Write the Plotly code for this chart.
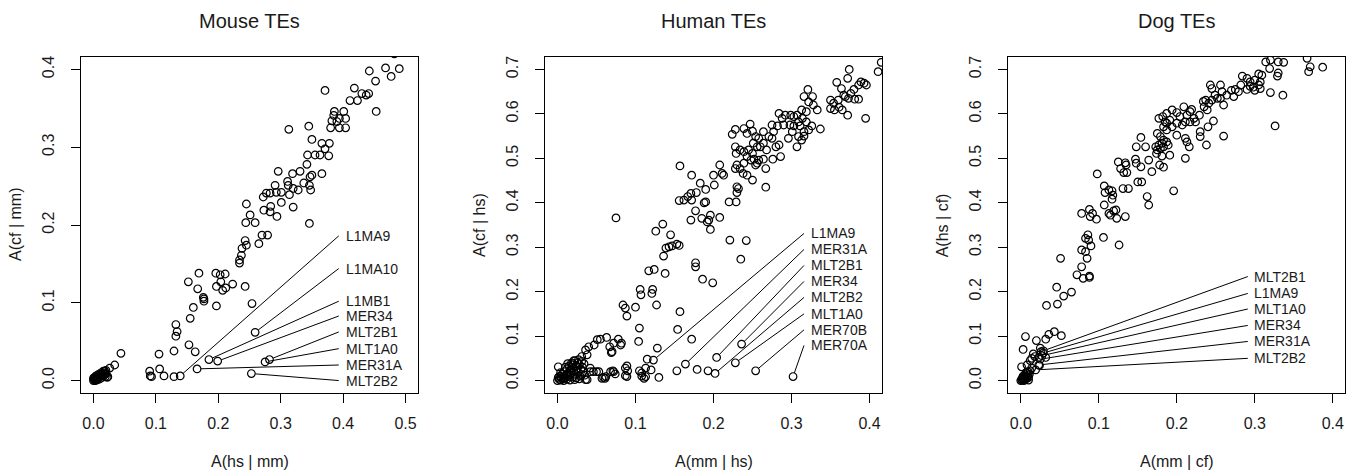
import math
import plotly.graph_objects as go

# ---------------- DATA ----------------
# Mouse TEs: x = A(hs | mm), y = A(cf | mm)
mouse_x = [0.482, 0.468, 0.477, 0.490, 0.442, 0.452, 0.418, 0.430, 0.437, 0.441, 0.411, 0.423, 0.371, 0.453,
           0.386, 0.401, 0.385, 0.394, 0.390, 0.382, 0.404, 0.394, 0.404, 0.380, 0.313, 0.345, 0.350, 0.366,
           0.378, 0.371, 0.355, 0.363, 0.377, 0.343, 0.366, 0.342, 0.350, 0.347, 0.348, 0.346, 0.337, 0.346,
           0.296, 0.319, 0.331, 0.311, 0.312, 0.320, 0.328, 0.314, 0.320, 0.291, 0.283, 0.293, 0.301, 0.277,
           0.272, 0.301, 0.294, 0.284, 0.283, 0.273, 0.245, 0.251, 0.244, 0.259, 0.270, 0.279, 0.265, 0.243,
           0.245, 0.238, 0.237, 0.234, 0.234, 0.243, 0.254, 0.196, 0.203, 0.211, 0.197, 0.207, 0.223, 0.212,
           0.204, 0.197, 0.169, 0.152, 0.167, 0.176, 0.177, 0.177, 0.160, 0.155, 0.132, 0.134, 0.132, 0.153,
           0.163, 0.129, 0.105, 0.090, 0.091, 0.093, 0.106, 0.113, 0.129, 0.044, 0.034, 0.026, 0.023, 0.018,
           0.000, 0.001, 0.002, 0.003, 0.004, 0.005, 0.006, 0.007, 0.008, 0.009, 0.010, 0.011, 0.012, 0.013,
           0.014, 0.015, 0.016, 0.017, 0.018, 0.019, 0.020, 0.022, 0.002, 0.004, 0.006, 0.008, 0.010, 0.012,
           0.014, 0.000, 0.003, 0.016, 0.020]
mouse_y = [0.420, 0.402, 0.391, 0.401, 0.398, 0.385, 0.376, 0.369, 0.367, 0.369, 0.360, 0.360, 0.373, 0.346,
           0.346, 0.346, 0.341, 0.337, 0.333, 0.334, 0.337, 0.325, 0.325, 0.325, 0.323, 0.327, 0.310, 0.305,
           0.305, 0.298, 0.290, 0.290, 0.289, 0.290, 0.266, 0.278, 0.264, 0.262, 0.245, 0.251, 0.254, 0.202,
           0.269, 0.266, 0.269, 0.256, 0.251, 0.247, 0.245, 0.239, 0.223, 0.251, 0.241, 0.242, 0.242, 0.241,
           0.236, 0.229, 0.211, 0.224, 0.217, 0.219, 0.227, 0.213, 0.203, 0.203, 0.187, 0.187, 0.176, 0.180,
           0.174, 0.170, 0.161, 0.155, 0.151, 0.121, 0.099, 0.138, 0.136, 0.137, 0.121, 0.116, 0.124, 0.119,
           0.127, 0.096, 0.138, 0.127, 0.118, 0.107, 0.102, 0.105, 0.094, 0.080, 0.072, 0.063, 0.057, 0.046,
           0.037, 0.038, 0.034, 0.012, 0.006, 0.005, 0.015, 0.006, 0.005, 0.035, 0.020, 0.016, 0.005, 0.012,
           0.000, 0.002, 0.001, 0.003, 0.002, 0.004, 0.003, 0.005, 0.004, 0.006, 0.005, 0.007, 0.006, 0.008,
           0.007, 0.009, 0.006, 0.010, 0.008, 0.005, 0.009, 0.004, 0.004, 0.006, 0.001, 0.008, 0.002, 0.010,
           0.004, 0.003, 0.000, 0.012, 0.013]
mouse_labels = ["L1MA9", "L1MA10", "L1MB1", "MER34", "MLT2B1", "MLT1A0", "MER31A", "MLT2B2"]
mouse_lab_px = [0.139, 0.259, 0.185, 0.199, 0.282, 0.275, 0.166, 0.253]
mouse_lab_py = [0.006, 0.062, 0.027, 0.025, 0.027, 0.024, 0.015, 0.009]
mouse_lab_ty = [0.186, 0.144, 0.102, 0.083, 0.0625, 0.041, 0.020, 0.000]
mouse_lab_tx = 0.401
mouse_seg_x = 0.393

# Human TEs: x = A(mm | hs), y = A(cf | hs)
human_x = [0.415, 0.411, 0.374, 0.358, 0.372, 0.386, 0.393, 0.396, 0.389, 0.364, 0.380, 0.376, 0.369, 0.373,
           0.381, 0.386, 0.360, 0.350, 0.354, 0.367, 0.350, 0.355, 0.361, 0.365, 0.372, 0.395,
           0.321, 0.316, 0.327, 0.322, 0.328, 0.333, 0.337, 0.319, 0.313, 0.307, 0.314, 0.309, 0.303, 0.299,
           0.292, 0.284, 0.288, 0.282, 0.275, 0.277, 0.290, 0.298, 0.303, 0.311, 0.319, 0.326, 0.322, 0.316,
           0.309, 0.301, 0.296, 0.307, 0.313, 0.316, 0.275, 0.280, 0.284, 0.286, 0.276, 0.264, 0.268, 0.271,
           0.264, 0.264, 0.260, 0.267, 0.267, 0.247, 0.239, 0.228, 0.224, 0.243, 0.250, 0.254, 0.258, 0.251,
           0.256, 0.250, 0.243, 0.248, 0.252, 0.256, 0.258, 0.254, 0.228, 0.234, 0.239, 0.245, 0.229, 0.230,
           0.234, 0.228, 0.239, 0.238, 0.243, 0.250, 0.230, 0.232, 0.230, 0.229, 0.208, 0.211, 0.213, 0.200,
           0.201, 0.220, 0.208, 0.221, 0.242, 0.235, 0.183, 0.190, 0.178, 0.190, 0.188, 0.171, 0.167, 0.162,
           0.156, 0.172, 0.177, 0.172, 0.157, 0.185, 0.192, 0.196, 0.194, 0.196, 0.171, 0.177, 0.177, 0.186,
           0.199, 0.157, 0.154, 0.172, 0.145, 0.135, 0.126, 0.136, 0.139, 0.143, 0.147, 0.153, 0.156, 0.138,
           0.124, 0.117, 0.106, 0.107, 0.122, 0.121, 0.127, 0.100, 0.084, 0.087, 0.089, 0.105, 0.104, 0.128,
           0.075, 0.063, 0.055, 0.078, 0.081, 0.067, 0.069, 0.089, 0.089, 0.090, 0.105, 0.108, 0.111, 0.115,
           0.120, 0.130, 0.153, 0.179, 0.193, 0.074, 0.071, 0.068, 0.059, 0.062, 0.050, 0.042, 0.047, 0.040,
           0.036, 0.038, 0.031, 0.027, 0.051, 0.072, 0.082, 0.070, 0.113, 0.108, 0.113, 0.087, 0.087, 0.072,
           0.061, 0.057, 0.053, 0.046, 0.038, 0.001, 0.036, 0.031, 0.042,
           0.000, 0.002, 0.004, 0.005, 0.007, 0.008, 0.010, 0.011, 0.012, 0.013, 0.014, 0.015, 0.016, 0.017,
           0.018, 0.019, 0.020, 0.020, 0.021, 0.022, 0.023, 0.024, 0.025, 0.026, 0.027, 0.028, 0.029, 0.030,
           0.031, 0.032, 0.033, 0.034, 0.035, 0.003, 0.006, 0.009, 0.012, 0.015, 0.018, 0.021, 0.024, 0.016,
           0.008, 0.001, 0.004, 0.010, 0.028, 0.022, 0.019, 0.013]
human_y = [0.716, 0.695, 0.700, 0.671, 0.680, 0.665, 0.669, 0.665, 0.672, 0.657, 0.655, 0.646, 0.639, 0.635,
           0.633, 0.633, 0.631, 0.631, 0.624, 0.642, 0.612, 0.609, 0.615, 0.609, 0.597, 0.590,
           0.655, 0.639, 0.639, 0.627, 0.620, 0.609, 0.566, 0.605, 0.609, 0.597, 0.590, 0.582, 0.594, 0.597,
           0.597, 0.601, 0.590, 0.573, 0.575, 0.560, 0.575, 0.575, 0.573, 0.573, 0.582, 0.573, 0.564, 0.560,
           0.549, 0.560, 0.545, 0.526, 0.541, 0.550, 0.545, 0.526, 0.530, 0.504, 0.498, 0.498, 0.519, 0.549,
           0.560, 0.534, 0.526, 0.477, 0.435, 0.577, 0.567, 0.565, 0.554, 0.556, 0.561, 0.549, 0.545, 0.534,
           0.526, 0.511, 0.504, 0.496, 0.498, 0.489, 0.496, 0.485, 0.526, 0.519, 0.515, 0.519, 0.511, 0.485,
           0.477, 0.477, 0.489, 0.466, 0.462, 0.451, 0.436, 0.432, 0.423, 0.402, 0.485, 0.466, 0.462, 0.462,
           0.440, 0.402, 0.367, 0.316, 0.315, 0.273, 0.444, 0.430, 0.423, 0.402, 0.400, 0.421, 0.414, 0.406,
           0.405, 0.406, 0.382, 0.462, 0.483, 0.365, 0.357, 0.372, 0.361, 0.340, 0.361, 0.265, 0.256, 0.228,
           0.220, 0.155, 0.115, 0.093, 0.328, 0.352, 0.336, 0.280, 0.298, 0.301, 0.303, 0.307, 0.304, 0.241,
           0.250, 0.247, 0.205, 0.193, 0.205, 0.196, 0.170, 0.165, 0.170, 0.163, 0.145, 0.118, 0.088, 0.073,
           0.366, 0.097, 0.093, 0.093, 0.080, 0.076, 0.063, 0.033, 0.009, 0.022, 0.022, 0.010, 0.005, 0.048,
           0.024, 0.007, 0.022, 0.025, 0.022, 0.015, 0.022, 0.020, 0.007, 0.009, 0.020, 0.020, 0.080, 0.076,
           0.069, 0.058, 0.054, 0.047, 0.092, 0.084, 0.084, 0.065, 0.028, 0.017, 0.009, 0.028, 0.011, 0.020,
           0.005, 0.005, 0.020, 0.020, 0.002, 0.031, 0.002, 0.013, 0.028,
           0.000, 0.003, 0.001, 0.006, 0.004, 0.009, 0.006, 0.012, 0.003, 0.015, 0.009, 0.020, 0.012, 0.025,
           0.017, 0.030, 0.008, 0.038, 0.022, 0.044, 0.014, 0.033, 0.027, 0.040, 0.018, 0.036, 0.010, 0.025,
           0.043, 0.030, 0.020, 0.038, 0.012, 0.010, 0.014, 0.020, 0.026, 0.033, 0.040, 0.045, 0.006, 0.001,
           0.000, 0.007, 0.018, 0.030, 0.004, 0.002, 0.035, 0.038]
human_labels = ["L1MA9", "MER31A", "MLT2B1", "MER34", "MLT2B2", "MLT1A0", "MER70B", "MER70A"]
human_lab_px = [0.123, 0.164, 0.204, 0.236, 0.202, 0.228, 0.254, 0.302]
human_lab_py = [0.046, 0.037, 0.052, 0.082, 0.016, 0.040, 0.022, 0.009]
human_lab_ty = [0.331, 0.295, 0.259, 0.223, 0.187, 0.150, 0.114, 0.079]
human_lab_tx = 0.323
human_seg_x = 0.316

# Dog TEs: x = A(mm | cf), y = A(hs | cf)
dog_x = [0.367, 0.369, 0.371, 0.387, 0.314, 0.320, 0.330, 0.337, 0.319, 0.330, 0.329, 0.320, 0.336, 0.326,
         0.305, 0.309, 0.300, 0.307, 0.305, 0.298, 0.290, 0.294, 0.300, 0.307, 0.284, 0.290, 0.294, 0.282,
         0.275, 0.279, 0.270, 0.273, 0.264, 0.258, 0.256, 0.243, 0.245, 0.249, 0.252, 0.256, 0.245, 0.237,
         0.241, 0.235, 0.239, 0.234, 0.260, 0.247, 0.240, 0.260, 0.238, 0.217, 0.219, 0.209, 0.213, 0.222,
         0.224, 0.217, 0.211, 0.204, 0.200, 0.207, 0.200, 0.194, 0.187, 0.191, 0.187, 0.194, 0.182, 0.185,
         0.177, 0.183, 0.187, 0.200, 0.230, 0.230, 0.229, 0.211, 0.213, 0.216, 0.211, 0.175, 0.179, 0.183,
         0.187, 0.181, 0.177, 0.173, 0.175, 0.179, 0.183, 0.189, 0.174, 0.181, 0.191, 0.178, 0.183, 0.168,
         0.164, 0.160, 0.154, 0.148, 0.147, 0.148, 0.154, 0.150, 0.155, 0.162, 0.164, 0.196, 0.125, 0.134,
         0.135, 0.128, 0.132, 0.136, 0.098, 0.107, 0.108, 0.113, 0.117, 0.118, 0.117, 0.131, 0.138, 0.107,
         0.113, 0.115, 0.119, 0.122, 0.123, 0.134, 0.106, 0.126, 0.078, 0.088, 0.092, 0.089, 0.097, 0.083,
         0.086, 0.087, 0.090, 0.078, 0.083, 0.085, 0.078, 0.072, 0.080, 0.088, 0.088, 0.051, 0.046, 0.047,
         0.055, 0.065, 0.033, 0.006, 0.003, 0.020, 0.032, 0.036, 0.043, 0.052, 0.025, 0.026, 0.032, 0.023,
         0.016, 0.018, 0.014, 0.012, 0.024, 0.014, 0.008, 0.001, 0.008, 0.006,
         0.000, 0.001, 0.002, 0.003, 0.004, 0.005, 0.006, 0.007, 0.008, 0.009, 0.010, 0.011, 0.003, 0.005,
         0.007, 0.002, 0.009, 0.012, 0.004, 0.010]
dog_y = [0.725, 0.695, 0.706, 0.705, 0.717, 0.721, 0.717, 0.716, 0.702, 0.692, 0.685, 0.648, 0.642, 0.573,
         0.690, 0.687, 0.676, 0.672, 0.665, 0.660, 0.655, 0.662, 0.653, 0.657, 0.685, 0.680, 0.672, 0.665,
         0.655, 0.650, 0.653, 0.639, 0.642, 0.650, 0.665, 0.665, 0.657, 0.642, 0.635, 0.635, 0.631, 0.631,
         0.624, 0.616, 0.609, 0.628, 0.620, 0.584, 0.571, 0.550, 0.530, 0.605, 0.610, 0.616, 0.597, 0.590,
         0.582, 0.582, 0.582, 0.594, 0.603, 0.575, 0.579, 0.609, 0.601, 0.586, 0.579, 0.571, 0.594, 0.582,
         0.590, 0.571, 0.564, 0.552, 0.560, 0.549, 0.597, 0.545, 0.537, 0.526, 0.500, 0.556, 0.549, 0.541,
         0.537, 0.534, 0.530, 0.526, 0.519, 0.522, 0.526, 0.530, 0.511, 0.505, 0.507, 0.485, 0.480, 0.470,
         0.496, 0.526, 0.547, 0.526, 0.498, 0.489, 0.481, 0.447, 0.447, 0.414, 0.395, 0.427, 0.492, 0.490,
         0.485, 0.477, 0.468, 0.468, 0.465, 0.438, 0.423, 0.429, 0.427, 0.417, 0.408, 0.432, 0.432, 0.395,
         0.376, 0.372, 0.382, 0.384, 0.365, 0.369, 0.322, 0.305, 0.376, 0.385, 0.376, 0.369, 0.363, 0.320,
         0.328, 0.316, 0.303, 0.294, 0.290, 0.275, 0.256, 0.238, 0.230, 0.235, 0.232, 0.275, 0.210, 0.172,
         0.190, 0.199, 0.169, 0.099, 0.070, 0.090, 0.093, 0.104, 0.110, 0.101, 0.073, 0.065, 0.052, 0.052,
         0.060, 0.054, 0.050, 0.045, 0.034, 0.028, 0.035, 0.031, 0.016, 0.009,
         0.000, 0.002, 0.001, 0.004, 0.002, 0.006, 0.003, 0.008, 0.005, 0.011, 0.007, 0.014, 0.010, 0.013,
         0.018, 0.006, 0.020, 0.022, 0.000, 0.001]
dog_labels = ["MLT2B1", "L1MA9", "MLT1A0", "MER34", "MER31A", "MLT2B2"]
dog_lab_px = [0.029, 0.029, 0.027, 0.025, 0.023, 0.019]
dog_lab_py = [0.067, 0.062, 0.056, 0.048, 0.035, 0.024]
dog_lab_ty = [0.234, 0.196, 0.161, 0.124, 0.088, 0.050]
dog_lab_tx = 0.2965
dog_seg_x = 0.291

titles = ["Mouse TEs", "Human TEs", "Dog TEs"]
x_titles = ["A(hs | mm)", "A(mm | hs)", "A(mm | cf)"]
y_titles = ["A(cf | mm)", "A(cf | hs)", "A(hs | cf)"]
x_ticks = [[0.0, 0.1, 0.2, 0.3, 0.4, 0.5], [0.0, 0.1, 0.2, 0.3, 0.4], [0.0, 0.1, 0.2, 0.3, 0.4]]
y_ticks = [[0.0, 0.1, 0.2, 0.3, 0.4], [0.0, 0.1, 0.2, 0.3, 0.4, 0.5, 0.6, 0.7],
           [0.0, 0.1, 0.2, 0.3, 0.4, 0.5, 0.6, 0.7]]
x_lims = [[0.0, 0.5], [0.0, 0.4], [0.0, 0.4]]
y_lims = [[0.0, 0.4], [0.0, 0.7], [0.0, 0.7]]

# ---------------- LAYOUT ----------------
W, H = 1356, 473          # window size
OFF = 8                   # default page body margin in the browser
FW, FH = W - OFF, H - OFF  # figure size so that page fits the window
FONT = "Liberation Sans, Arial, Helvetica, sans-serif"
TXT = "#1a1a1a"
box_left = [81, 545, 1008.3]   # window pixel positions
box_w = 337
box_top, box_bot = 57, 393
R_PX = 3.9  # circle radius in px


def px_x(x):
    return (x - OFF) / FW


def px_y(y):
    return 1 - (y - OFF) / FH


panels = [
    (mouse_x, mouse_y, mouse_labels, mouse_lab_px, mouse_lab_py, mouse_lab_ty, mouse_lab_tx, mouse_seg_x),
    (human_x, human_y, human_labels, human_lab_px, human_lab_py, human_lab_ty, human_lab_tx, human_seg_x),
    (dog_x, dog_y, dog_labels, dog_lab_px, dog_lab_py, dog_lab_ty, dog_lab_tx, dog_seg_x),
]

fig = go.Figure()
annotations = []
layout_axes = {}

for i, (px, py, labs, lpx, lpy, lty, ltx, segx) in enumerate(panels):
    n = i + 1
    xa = "x" if n == 1 else f"x{n}"
    ya = "y" if n == 1 else f"y{n}"
    # R-style 4% range extension
    xl, yl = x_lims[i], y_lims[i]
    xr = [xl[0] - 0.04 * (xl[1] - xl[0]), xl[1] + 0.04 * (xl[1] - xl[0])]
    yr = [yl[0] - 0.04 * (yl[1] - yl[0]), yl[1] + 0.04 * (yl[1] - yl[0])]
    sx = box_w / (xr[1] - xr[0])
    sy = (box_bot - box_top) / (yr[1] - yr[0])

    allx = list(px) + list(lpx)
    ally = list(py) + list(lpy)
    fig.add_trace(go.Scatter(
        x=allx, y=ally, mode="markers", xaxis=xa, yaxis=ya,
        marker=dict(symbol="circle-open", size=7.6, color="black", line=dict(width=1.2, color="black")),
        hoverinfo="skip", showlegend=False))

    # segments from point (edge of circle) to label
    sgx, sgy = [], []
    for a, b, t in zip(lpx, lpy, lty):
        dxp = (segx - a) * sx
        dyp = (t - b) * sy
        L = math.hypot(dxp, dyp)
        f = R_PX / L if L > 0 else 0
        sgx += [a + (segx - a) * f, segx, None]
        sgy += [b + (t - b) * f, t, None]
    fig.add_trace(go.Scatter(
        x=sgx, y=sgy, mode="lines", xaxis=xa, yaxis=ya,
        line=dict(color="black", width=1), hoverinfo="skip", showlegend=False))

    for name, t in zip(labs, lty):
        annotations.append(dict(x=ltx, y=t, xref=xa, yref=ya, text=name, showarrow=False,
                                xanchor="left", yanchor="middle",
                                font=dict(family=FONT, size=14, color=TXT)))

    x0 = px_x(box_left[i])
    x1 = px_x(box_left[i] + box_w)
    dom_y = [px_y(box_bot), px_y(box_top)]
    common = dict(showline=True, mirror=True, linecolor="black", linewidth=1,
                  ticks="outside", ticklen=9, tickwidth=1, tickcolor="black",
                  showgrid=False, zeroline=False, tickformat=".1f", tickmode="array",
                  tickfont=dict(family=FONT, size=16, color=TXT))
    layout_axes["xaxis" if n == 1 else f"xaxis{n}"] = dict(
        common, domain=[x0, x1], range=xr, tickvals=x_ticks[i], anchor=ya, ticklabelstandoff=7)
    layout_axes["yaxis" if n == 1 else f"yaxis{n}"] = dict(
        common, domain=dom_y, range=yr, tickvals=y_ticks[i], anchor=xa, tickangle=-90,
        ticklabelstandoff=11)

    cx = (x0 + x1) / 2
    annotations.append(dict(x=cx, y=1.0, xref="paper", yref="paper", text=titles[i],
                            showarrow=False, xanchor="center", yanchor="top",
                            font=dict(family=FONT, size=20, color=TXT)))
    annotations.append(dict(x=cx, y=px_y(461.5), xref="paper", yref="paper", text=x_titles[i],
                            showarrow=False, xanchor="center", yanchor="middle",
                            font=dict(family=FONT, size=16, color=TXT)))
    annotations.append(dict(x=px_x(box_left[i] - 66), y=px_y(225), xref="paper", yref="paper",
                            text=y_titles[i], textangle=-90,
                            showarrow=False, xanchor="center", yanchor="middle",
                            font=dict(family=FONT, size=16, color=TXT)))

fig.update_layout(
    width=FW, height=FH, margin=dict(l=0, r=0, t=0, b=0),
    paper_bgcolor="white", plot_bgcolor="white",
    annotations=annotations, showlegend=False, **layout_axes)

fig.write_html("out.html")
